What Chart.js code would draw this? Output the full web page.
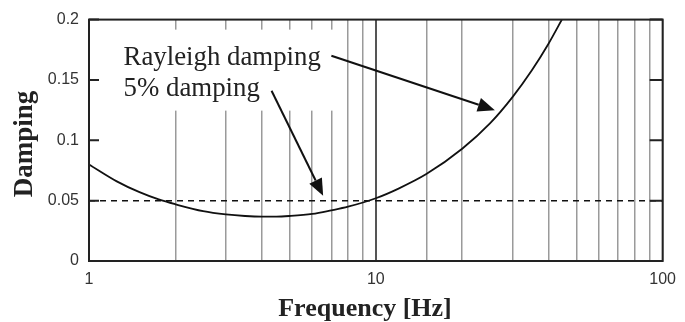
<!DOCTYPE html>
<html>
<head>
<meta charset="utf-8">
<script src="https://cdn.jsdelivr.net/npm/chart.js@4.4.0/dist/chart.umd.min.js"></script>
<style>
  body { margin: 0; background: #fff; }
  canvas { display: block; }
</style>
</head>
<body>
<canvas id="graf" width="685" height="322"></canvas>
<script>
// frekvence [Hz] in Rayleighovo dušenje
const frekvence = [1, 1.25, 1.5, 1.75, 2, 2.5, 3, 3.5, 4, 4.5, 5, 6, 7, 8, 10, 12, 15, 20, 25, 30, 35, 40, 45];
const rayleigh = [0.080, 0.066, 0.057, 0.051, 0.047, 0.0413, 0.0386, 0.0373, 0.0368, 0.0368, 0.0373, 0.039, 0.042, 0.045, 0.052, 0.060, 0.072, 0.093, 0.114, 0.136, 0.158, 0.180, 0.202];

// konstantno 5% dušenje
const mejeFrekvenc = [1, 100];
const petOdstotkov = [0.05, 0.05];

// oznake osi
const xOznake = [1, 10, 100];
const yOznake = [0, 0.05, 0.1, 0.15, 0.2];

// napis in puščici (v enotah grafa)
const napisi = ["Rayleigh damping", "5% damping"];
const napisPoz = [1.32, 0.1627];
const puscice = [
  { zacetek: [7.0, 0.170], konec: [26.0, 0.125] },
  { zacetek: [4.33, 0.141], konec: [6.55, 0.054] }
];

function puscica(ctx, x1, y1, x2, y2) {
  const kot = Math.atan2(y2 - y1, x2 - x1);
  const dolzina = 17, sirina = 7;
  const bx = x2 - dolzina * Math.cos(kot);
  const by = y2 - dolzina * Math.sin(kot);
  ctx.beginPath();
  ctx.moveTo(x1, y1);
  ctx.lineTo(bx, by);
  ctx.stroke();
  ctx.beginPath();
  ctx.moveTo(x2, y2);
  ctx.lineTo(bx + sirina * Math.sin(kot), by - sirina * Math.cos(kot));
  ctx.lineTo(bx - sirina * Math.sin(kot), by + sirina * Math.cos(kot));
  ctx.closePath();
  ctx.fill();
}

const dodatki = {
  id: 'dodatki',
  beforeDatasetsDraw(chart) {
    const { ctx, scales: { x, y } } = chart;
    const tx = x.getPixelForValue(napisPoz[0]);
    const ty = y.getPixelForValue(napisPoz[1]);
    ctx.save();
    // bela podlaga pod napisom
    ctx.fillStyle = '#fff';
    ctx.fillRect(tx - 12, ty - 35, 228, 81);
    ctx.font = '26.8px "Liberation Serif"';
    ctx.fillStyle = '#222';
    ctx.textBaseline = 'alphabetic';
    napisi.forEach((t, i) => ctx.fillText(t, tx, ty + i * 31));
    ctx.restore();
  },
  afterDatasetsDraw(chart) {
    const { ctx, chartArea: a, scales: { x, y } } = chart;
    ctx.save();
    ctx.strokeStyle = '#111';
    ctx.fillStyle = '#111';
    ctx.lineWidth = 2;
    puscice.forEach(p => {
      puscica(ctx,
        x.getPixelForValue(p.zacetek[0]), y.getPixelForValue(p.zacetek[1]),
        x.getPixelForValue(p.konec[0]), y.getPixelForValue(p.konec[1]));
    });

    // okvir
    ctx.strokeStyle = '#222';
    ctx.strokeRect(a.left, a.top, a.right - a.left, a.bottom - a.top);

    // kratke oznake navznoter na obeh straneh
    yOznake.slice(1).forEach(v => {
      const py = y.getPixelForValue(v);
      ctx.beginPath();
      ctx.moveTo(a.left, py);
      ctx.lineTo(a.left + 10, py);
      ctx.moveTo(a.right - 13, py);
      ctx.lineTo(a.right, py);
      ctx.stroke();
    });
    ctx.restore();
  },
  afterDraw(chart) {
    const { ctx } = chart;
    ctx.save();
    ctx.fillStyle = '#222';
    ctx.textAlign = 'center';
    ctx.font = 'bold 26px "Liberation Serif"';
    ctx.textBaseline = 'alphabetic';
    ctx.fillText('Frequency [Hz]', 365, 316);
    ctx.translate(25, 144);
    ctx.rotate(-Math.PI / 2);
    ctx.font = 'bold 27px "Liberation Serif"';
    ctx.textBaseline = 'middle';
    ctx.fillText('Damping', 0, 0);
    ctx.restore();
  }
};

const ctx = document.getElementById('graf').getContext('2d');

new Chart(ctx, {
  type: 'line',
  data: {
    datasets: [
      {
        label: 'Rayleigh damping',
        data: frekvence.map((f, i) => ({ x: f, y: rayleigh[i] })),
        borderColor: '#111',
        borderWidth: 1.8,
        pointRadius: 0,
        cubicInterpolationMode: 'monotone',
        fill: false
      },
      {
        label: '5% damping',
        data: mejeFrekvenc.map((f, i) => ({ x: f, y: petOdstotkov[i] })),
        borderColor: '#111',
        borderWidth: 1.5,
        borderDash: [6, 5],
        pointRadius: 0,
        fill: false
      }
    ]
  },
  options: {
    responsive: false,
    animation: false,
    layout: { padding: { top: 16, right: 18, left: 0, bottom: 0 } },
    plugins: {
      legend: { display: false },
      tooltip: { enabled: false }
    },
    scales: {
      x: {
        type: 'logarithmic',
        min: 1,
        max: 100,
        afterFit: s => { s.height = 61; },
        border: { display: false },
        grid: {
          drawTicks: false,
          color: c => (c.tick && c.tick.value === 10) ? '#555' : '#9a9a9a',
          lineWidth: c => (c.tick && c.tick.value === 10) ? 2 : 1.5
        },
        ticks: {
          autoSkip: false,
          maxRotation: 0,
          padding: 9,
          color: '#333',
          font: { family: 'Liberation Sans', size: 16 },
          callback: v => xOznake.includes(v) ? String(v) : ''
        }
      },
      y: {
        min: 0,
        max: 0.2,
        afterFit: s => { s.width = 89; },
        border: { display: false },
        grid: { display: false, drawTicks: false },
        afterBuildTicks: s => { s.ticks = yOznake.map(v => ({ value: v })); },
        ticks: {
          padding: 10,
          color: '#333',
          font: { family: 'Liberation Sans', size: 16 },
          callback: v => String(+v.toFixed(2))
        }
      }
    }
  },
  plugins: [dodatki]
});
</script>
</body>
</html>
